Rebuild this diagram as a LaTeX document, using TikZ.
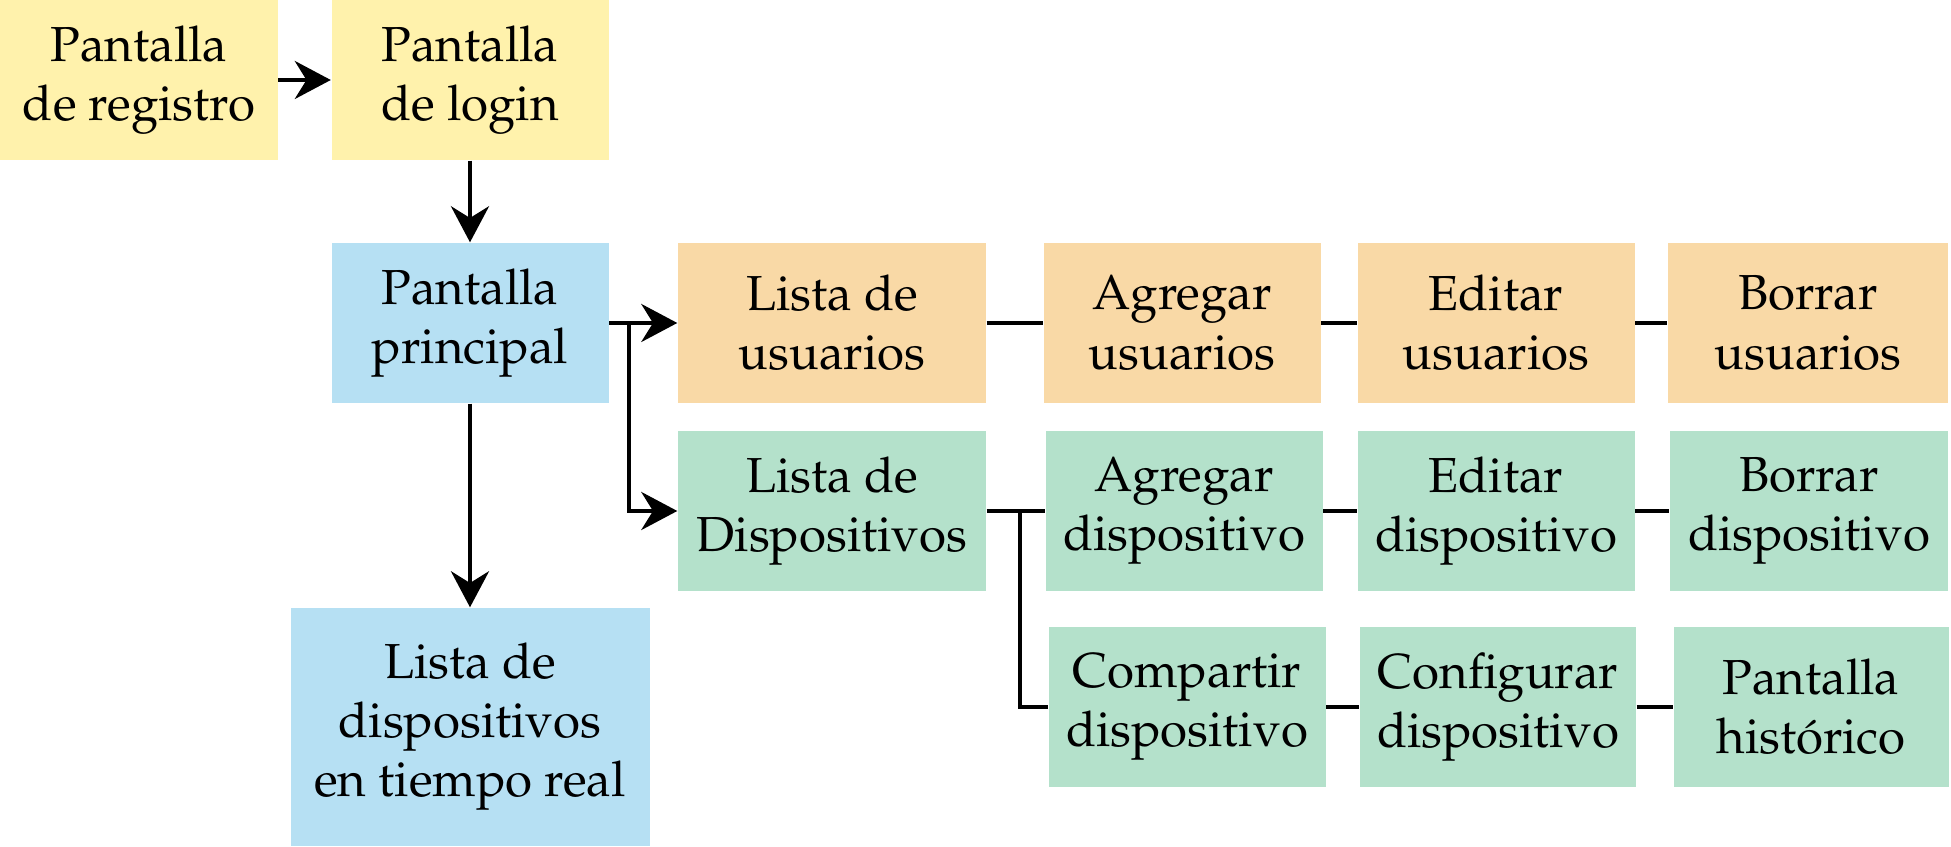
\documentclass[tikz,border=0pt]{standalone}
\usepackage[T1]{fontenc}
\usepackage{mathpazo}
\usepackage{tikz}
\usetikzlibrary{arrows.meta, positioning}

\definecolor{pyellow}{RGB}{255,242,172}
\definecolor{pblue}{RGB}{182,224,243}
\definecolor{porange}{RGB}{249,217,166}
\definecolor{pgreen}{RGB}{180,225,203}

\begin{document}
\begin{tikzpicture}[
        screen/.style={inner sep=0pt, align=center, font=\fontsize{14}{16.8}\selectfont,
            minimum width=2.77cm, minimum height=1.60cm},
        wide/.style={minimum width=3.08cm},
        arr/.style={-{Stealth[length=3.6mm,width=3.8mm]}, line width=1.2pt},
        link/.style={line width=1.2pt}]
        \useasboundingbox (0,0) rectangle (19.51,-8.47);
        \node [screen, fill=pyellow] (reg) at (1.39,-0.80) {Pantalla\\de registro};
        \node [screen, fill=pyellow] (login) at (4.70,-0.80) {Pantalla\\de login};
        \node [screen, fill=pblue] (princ) at (4.70,-3.23) {Pantalla\\principal};
        \node [screen, fill=pblue, minimum width=3.59cm, minimum height=2.38cm] (treal) at (4.70,-7.27) {Lista de\\dispositivos\\en tiempo real};
        \node [screen, wide, fill=porange] (lusu) at (8.32,-3.23) {Lista de\\usuarios};
        \node [screen, fill=porange] (agusu) at (11.82,-3.23) {Agregar\\usuarios};
        \node [screen, fill=porange] (edusu) at (14.96,-3.23) {Editar\\usuarios};
        \node [screen, fill=porange, minimum width=2.80cm] (bousu) at (18.08,-3.23) {Borrar\\usuarios};
        \node [screen, wide, fill=pgreen] (ldisp) at (8.32,-5.11) {Lista de\\Dispositivos};
        \node [screen, fill=pgreen] (agdisp) at (11.84,-5.11) {Agregar\\dispositivo};
        \node [screen, fill=pgreen] (eddisp) at (14.96,-5.11) {Editar\\dispositivo};
        \node [screen, fill=pgreen, minimum width=2.78cm] (bodisp) at (18.09,-5.11) {Borrar\\dispositivo};
        \node [screen, fill=pgreen] (comp) at (11.87,-7.07) {Compartir\\dispositivo};
        \node [screen, fill=pgreen, minimum width=2.76cm] (conf) at (14.98,-7.07) {Configurar\\dispositivo};
        \node [screen, fill=pgreen, minimum width=2.75cm] (hist) at (18.11,-7.07) {Pantalla\\hist\'orico};
        \coordinate (b1) at (6.29,-3.23);
        \coordinate (b2) at (10.20,-5.11);
        \draw [arr] (reg) -- (login);
        \draw [arr] (login) -- (princ);
        \draw [arr] (princ) -- (treal);
        \draw [arr] (princ) -- (lusu);
        \draw [arr] (b1) |- (ldisp);
        \draw [link] (lusu) -- (agusu);
        \draw [link] (agusu) -- (edusu);
        \draw [link] (edusu) -- (bousu);
        \draw [link] (ldisp) -- (agdisp);
        \draw [link] (agdisp) -- (eddisp);
        \draw [link] (eddisp) -- (bodisp);
        \draw [link] (b2) |- (comp);
        \draw [link] (comp) -- (conf);
        \draw [link] (conf) -- (hist);
\end{tikzpicture}
\end{document}
